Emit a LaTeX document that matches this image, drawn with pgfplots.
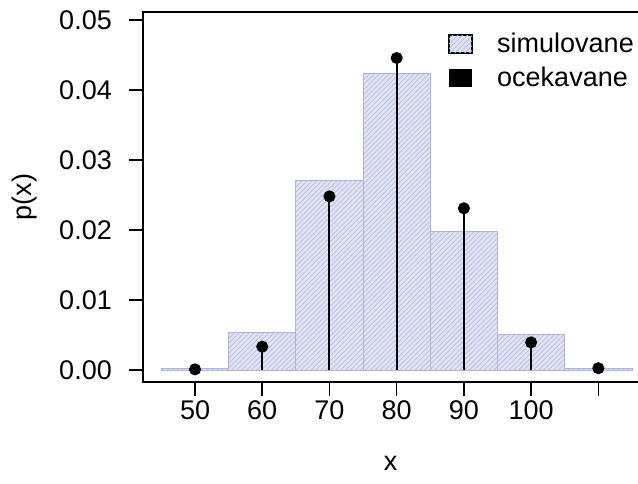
\documentclass[border=0pt]{standalone}
\usepackage{pgfplots}
\pgfplotsset{compat=1.18}
\usepackage{fontspec}
\setmainfont{Liberation Sans}
\usetikzlibrary{patterns.meta}
\definecolor{barfill}{HTML}{E3E5F5}
\definecolor{barhatch}{HTML}{BABEE6}
\definecolor{baredge}{HTML}{AEB2DC}
\begin{document}
\fontsize{27}{32}\selectfont
\begin{tikzpicture}
\begin{axis}[
  name=ax,
  scale only axis, width=495pt, height=370pt,
  xmin=42.26, xmax=115.9, ymin=-0.00172, ymax=0.05114,
  axis line style={draw=none},
  clip=false,
  tick align=outside, major tick length=14pt,
  tick style={line width=1.5pt, black},
  xtick pos=bottom, ytick pos=left,
  xtick={50,60,70,80,90,100,110},
  xticklabels={50,60,70,80,90,100,{}},
  ytick={0,0.01,0.02,0.03,0.04,0.05},
  scaled y ticks=false,
  yticklabel style={xshift=-8pt, /pgf/number format/.cd, fixed, fixed zerofill, precision=2},
  xticklabel style={yshift=5pt},
  /pgf/number format/assume math mode=true,
  ticklabel style={font=\fontsize{27}{32}\selectfont},
  label style={font=\fontsize{27}{32}\selectfont},
  xlabel={x}, ylabel={p(x)},
  xlabel style={yshift=-19pt},
  ylabel style={yshift=4pt},
]
\addplot[ybar interval, fill=barfill, draw=baredge, line width=0.8pt,
  postaction={pattern={Lines[angle=45,distance=3.5pt,line width=0.9pt]}, pattern color=barhatch}]
  coordinates {(45,0.0002) (55,0.00534) (65,0.0271) (75,0.0424) (85,0.0198) (95,0.0051) (105,0.0002) (115,0.0002)};
\addplot[ycomb, black, line width=2pt, mark=*, mark size=5pt]
  coordinates {(50,0.000085) (60,0.00333) (70,0.0248) (80,0.04457) (90,0.0231) (100,0.00394) (110,0.00025)};
\draw[line width=2pt, line cap=rect] (rel axis cs:1,1) -- (rel axis cs:0,1) -- (rel axis cs:0,0) -- (rel axis cs:1,0);
% legend
\draw[fill=barfill, draw=black, line width=1.2pt,
  postaction={pattern={Lines[angle=45,distance=3.5pt,line width=0.9pt]}, pattern color=barhatch}]
  (rel axis cs:0.6182,0.9378) rectangle (rel axis cs:0.6646,0.8892);
\fill[black] (rel axis cs:0.6182,0.8459) rectangle (rel axis cs:0.6646,0.7973);
\node[anchor=base west, inner sep=0pt] at (rel axis cs:0.7152,0.8892) {simulovane};
\node[anchor=base west, inner sep=0pt] at (rel axis cs:0.7152,0.7973) {ocekavane};
\end{axis}
\pgfresetboundingbox
\path ([xshift=-143pt,yshift=-101pt]ax.south west) rectangle ([yshift=12pt]ax.north east);
\end{tikzpicture}
\end{document}
